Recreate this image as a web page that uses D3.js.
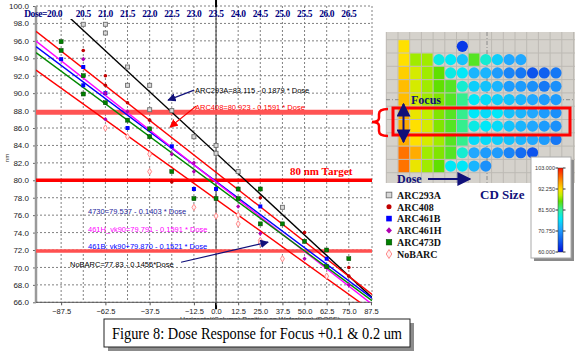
<!DOCTYPE html>
<meta charset="utf-8">
<style>
  body { margin: 0; background: #fff; }
  svg text { font-family: "Liberation Sans", Arial, sans-serif; }
  .serif { font-family: "Liberation Serif", "Times New Roman", serif !important; }
</style>
<div id="chart"></div>
<script src="https://d3js.org/d3.v7.min.js"></script>
<script>
// wafer columns (mm) and the dose written above each one
var columns = [-87.5, -75, -62.5, -50, -37.5, -25, -12.5, 0, 12.5, 25, 37.5, 50, 62.5, 75];
var doses = ["20.0", "20.5", "21.0", "21.5", "22.0", "22.5", "23.0", "23.5", "24.0", "24.5", "25.0", "25.5", "26.0", "26.5"];
var xTicks = [-87.5, -62.5, -37.5, -12.5, 0, 12.5, 25, 37.5, 50, 62.5, 75, 87.5];
var yTicks = [66, 68, 70, 72, 74, 76, 78, 80, 82, 84, 86, 88, 90, 92, 94, 96, 98, 100];
var refLines = [87.8, 80, 71.9];

var seriesNames = ["ARC293A", "ARC408", "ARC461B", "ARC461H", "ARC473D", "NoBARC"];

// measured CD (nm) per column, two focus rows
var p293A = [[-75, 97.9], [-62.5, 97.9], [-62.5, 96.9], [-50, 93.0], [-50, 90.9], [-37.5, 90.9], [-37.5, 88.1],
  [-25, 88.0], [-12.5, 85.0], [0, 84.0], [0, 83.1], [12.5, 81.0], [37.5, 76.9]];
var p408 = [[-75, 94.9], [-62.5, 92.0], [-62.5, 90.9], [-50, 88.9], [-37.5, 86.9], [-25, 79.8], [-12.5, 77.9],
  [25, 78.0], [50, 74.0], [75, 70.0], [75, 69.0]];
var p461B = [[-87.5, 93.9], [-75, 93.0], [-75, 90.9], [-62.5, 90.0], [-50, 86.0], [-25, 83.9], [-12.5, 79.0],
  [0, 79.0], [25, 77.0], [62.5, 71.0]];
var p461H = [[-75, 93.9], [-62.5, 90.0], [-62.5, 87.0], [-50, 87.9], [-25, 83.0], [-12.5, 82.0], [-12.5, 81.0],
  [12.5, 77.0], [25, 73.9], [50, 71.0], [62.5, 70.0], [75, 68.0]];
var p473D = [[-87.5, 95.9], [-87.5, 94.9], [-75, 92.0], [-75, 89.9], [-62.5, 88.9], [-50, 86.9], [-37.5, 85.9],
  [-37.5, 85.0], [-25, 81.0], [-12.5, 77.9], [0, 77.9], [12.5, 79.0], [12.5, 77.9], [25, 79.0], [25, 75.0],
  [37.5, 75.0], [50, 73.0], [62.5, 72.0], [62.5, 70.1], [75, 71.0]];
var pNoBARC = [[-62.5, 86.0], [-50, 85.0], [-37.5, 83.0], [-37.5, 81.0], [-12.5, 76.9], [0, 75.9], [12.5, 76.0],
  [12.5, 75.0], [25, 73.1], [25, 72.8], [37.5, 71.0], [62.5, 69.0]];
var points = [p293A, p408, p461B, p461H, p473D, pNoBARC];

// linear fits: CD = intercept + slope * x
var fitIntercept = [83.115, 80.923, 79.870, 79.791, 79.4, 77.83];
var fitSlope = [-0.1879, -0.1591, -0.1521, -0.1591, -0.150, -0.1456];

var eqLabels = ["ARC293A=83.115 - 0.1879 * Dose", "ARC408=80.923 - 0.1591 * Dose", "4730=79.537 - 0.1403 * Dose",
  "461H_vk90=79.791 - 0.1591 * Dose", "461B; vk90+79.870 - 0.1521 * Dose", "NoBARC=77.83 - 0.1456*Dose"];

// wafer map (CD values), rows top to bottom, columns 1..14
var waferMap = [
  [92, null, null, null, null, 63, null, null, null, null, null, null, null, null],
  [92, 88, 88, 78, 77, 74, 85, 79, 75, 72, 72, null, null, null],
  [93, 90, 88, 86, 78, 77, 73, 73, 71, 69, 68, 65, 66, 68],
  [94, 90, 88, 86, 85, 79, 75, 74, 73, 71, 71, 70, 68, 70],
  [94, 90, 88, 87, 85, 82, 77, 76, 75, 74, 73, 72, 71, 71],
  [95, 91, 89, 87, 85, 82, 77, 76, 77, 74, 73, 72, 71, 70],
  [95, 92, 90, 87, 85, 82, 78, 77, 76, 74, 73, 72, 71, 70],
  [95, 92, 90, 88, 85, 82, 76, 76, 75, 74, 73, 72, 71, 68],
  [98, 95, 88, 87, 85, 79, 72, 71, 71, 69, 67, 65, null, null],
  [98, 91, 88, 86, 77, 77, 73, 70, null, null, null, null, null, null]
];
var scaleTicks = [103, 92.25, 81.5, 70.75, 60];

var colors = { "ARC293A": "#000000", "ARC408": "#ff0000", "ARC461B": "#0000ff", "ARC461H": "#ff00ff", "ARC473D": "#008800", "NoBARC": "#ff0000" };
var navy = "#10107a";

var svg = d3.select("#chart").append("svg").attr("width", 579).attr("height", 353);
var defs = svg.append("defs");
function arrowHead(id, col) {
  defs.append("marker").attr("id", id).attr("viewBox", "0 0 10 10").attr("refX", 9).attr("refY", 5)
    .attr("markerWidth", 7).attr("markerHeight", 7).attr("orient", "auto-start-reverse")
    .append("path").attr("d", "M0,0 L10,5 L0,10 Z").attr("fill", col);
}
arrowHead("navyHead", navy);
arrowHead("redHead", "#ff0000");
defs.append("clipPath").attr("id", "plotClip").append("rect").attr("x", 36).attr("y", 19).attr("width", 336).attr("height", 283.3);

var x = d3.scaleLinear().domain([-101.7, 88.1]).range([36, 372]);
var y = d3.scaleLinear().domain([66, 100]).range([302.3, 6]);

// grid
svg.append("g").selectAll("line").data(columns).enter().append("line")
  .attr("x1", d => x(d)).attr("x2", d => x(d)).attr("y1", y(100)).attr("y2", y(66))
  .attr("stroke", "#808080").attr("stroke-dasharray", "2,2");
svg.append("g").selectAll("line").data(yTicks).enter().append("line")
  .attr("x1", 36).attr("x2", 372).attr("y1", d => y(d)).attr("y2", d => y(d))
  .attr("stroke", "#808080").attr("stroke-dasharray", "2,2");
svg.append("line").attr("x1", 372).attr("x2", 372).attr("y1", y(100)).attr("y2", y(66))
  .attr("stroke", "#808080").attr("stroke-dasharray", "2,2");
svg.append("line").attr("x1", x(0)).attr("x2", x(0)).attr("y1", 0).attr("y2", y(66)).attr("stroke", "#303030");
svg.append("line").attr("x1", x(0)).attr("x2", x(0)).attr("y1", 0).attr("y2", 7).attr("stroke", "#000").attr("stroke-width", 2);
svg.append("line").attr("x1", x(0)).attr("x2", x(0)).attr("y1", y(66)).attr("y2", y(66) + 7).attr("stroke", "#000").attr("stroke-width", 2);

// axes
var yAxis = svg.append("g").attr("transform", "translate(36,0)")
  .call(d3.axisLeft(y).tickValues(yTicks).tickFormat(d3.format(".1f")).tickSize(3).tickPadding(4));
yAxis.select(".domain").remove();
yAxis.selectAll("text").attr("font-size", "8px").attr("fill", "#222");
yAxis.selectAll("line").attr("stroke", "#666");
svg.append("line").attr("x1", 36).attr("x2", 36).attr("y1", y(100)).attr("y2", y(66)).attr("stroke", "#9a9a9a").attr("stroke-width", 2.5);

var xAxis = svg.append("g").attr("transform", "translate(0," + y(66) + ")")
  .call(d3.axisBottom(x).tickValues(xTicks).tickFormat(d3.format(".1f")).tickSize(3).tickPadding(3));
xAxis.select(".domain").attr("d", "M36,0H372").attr("stroke", "#555");
xAxis.selectAll("text").attr("font-size", "7.5px").attr("fill", "#222");
xAxis.selectAll("line").attr("stroke", "#555");

svg.append("text").attr("x", 180).attr("y", 322).attr("font-size", "7px").attr("fill", "#333")
  .text("Horizontal(Column) Position on Wafer(mm)  (DOSE)");
svg.append("text").attr("transform", "translate(9,158) rotate(-90)").attr("text-anchor", "middle")
  .attr("font-size", "6px").attr("fill", "#333").text("nm");

// dose labels on top
svg.append("g").selectAll("text").data(doses).enter().append("text").attr("class", "serif")
  .attr("x", (d, i) => i === 0 ? x(columns[0]) + 1 : x(columns[i]))
  .attr("y", 17).attr("text-anchor", (d, i) => i === 0 ? "end" : "middle")
  .attr("font-size", "9.5px").attr("font-weight", "bold").attr("letter-spacing", "-0.4px").attr("fill", "#000080")
  .text((d, i) => i === 0 ? "Dose=" + d : d);

// reference lines
var refStyle = [{ w: 5, c: "#ff5454", x2: 373 }, { w: 3.5, c: "#ff0000", x2: 372 }, { w: 3.5, c: "#ff5050", x2: 372 }];
svg.append("g").selectAll("line").data(refLines).enter().append("line")
  .attr("x1", 36).attr("x2", (d, i) => refStyle[i].x2).attr("y1", d => y(d)).attr("y2", d => y(d))
  .attr("stroke", (d, i) => refStyle[i].c).attr("stroke-width", (d, i) => refStyle[i].w);
svg.append("text").attr("class", "serif").attr("x", 290).attr("y", 175).attr("font-size", "11px")
  .attr("font-weight", "bold").attr("fill", "#ff0000").text("80 nm Target");

// fit lines
var fitG = svg.append("g").attr("clip-path", "url(#plotClip)");
seriesNames.forEach(function(name, i) {
  var xs = x.domain();
  fitG.append("line")
    .attr("x1", x(xs[0])).attr("y1", y(fitIntercept[i] + fitSlope[i] * xs[0]))
    .attr("x2", x(xs[1])).attr("y2", y(fitIntercept[i] + fitSlope[i] * xs[1]))
    .attr("stroke", colors[name]).attr("stroke-width", 1.4);
});

// markers
function drawMarker(g, name, cx, cy, s) {
  s = s || 1;
  if (name === "ARC293A") {
    g.append("rect").attr("x", cx - 2 * s).attr("y", cy - 2 * s).attr("width", 4 * s).attr("height", 4 * s)
      .attr("fill", "#d8d8d8").attr("stroke", "#707070").attr("stroke-width", 0.9);
  } else if (name === "ARC408") {
    g.append("circle").attr("cx", cx).attr("cy", cy).attr("r", 1.8 * s).attr("fill", "#c00000");
  } else if (name === "ARC461B") {
    g.append("rect").attr("x", cx - 2 * s).attr("y", cy - 2 * s).attr("width", 4 * s).attr("height", 4 * s).attr("fill", "#0000ff");
  } else if (name === "ARC461H") {
    g.append("path").attr("d", "M" + cx + "," + (cy - 2.3 * s) + "l" + 2.1 * s + "," + 2.3 * s + "l" + (-2.1 * s) + "," + 2.3 * s + "l" + (-2.1 * s) + "," + (-2.3 * s) + "Z")
      .attr("fill", "#b000b0");
  } else if (name === "ARC473D") {
    g.append("rect").attr("x", cx - 2 * s).attr("y", cy - 2 * s).attr("width", 4 * s).attr("height", 4 * s)
      .attr("fill", "#008000").attr("stroke", "#004000").attr("stroke-width", 0.5);
  } else {
    g.append("path").attr("d", "M" + cx + "," + (cy - 3.2 * s) + "l" + 2 * s + "," + 3.2 * s + "l" + (-2 * s) + "," + 3.2 * s + "l" + (-2 * s) + "," + (-3.2 * s) + "Z")
      .attr("fill", "#fff0f0").attr("stroke", "#ff8080").attr("stroke-width", 0.9);
  }
}
var ptG = svg.append("g");
seriesNames.forEach(function(name, i) {
  points[i].forEach(function(p) { drawMarker(ptG, name, x(p[0]), y(p[1])); });
});

// equation annotations
var eqPos = [[-11.9, 90.0], [-11.9, 88.07], [-72.3, 76.1], [-72.3, 74.07], [-72.3, 72.1], [-82.5, 70.05]];
var eqCol = ["#000", "#ff0000", "#23239a", "#ff00ff", "#0000ff", "#000"];
svg.append("g").selectAll("text").data(eqLabels).enter().append("text")
  .attr("x", (d, i) => x(eqPos[i][0])).attr("y", (d, i) => y(eqPos[i][1]))
  .attr("font-size", "7.5px").attr("fill", (d, i) => eqCol[i]).text(d => d);
function arrow(a, b, col, head) {
  svg.append("line").attr("x1", x(a[0])).attr("y1", y(a[1])).attr("x2", x(b[0])).attr("y2", y(b[1]))
    .attr("stroke", col).attr("stroke-width", 1.2).attr("marker-end", "url(#" + head + ")");
}
arrow([-12.4, 90.35], [-27.1, 89.2], navy, "navyHead");
arrow([-11.3, 88.5], [-26.0, 86.1], "#ff0000", "redHead");
arrow([-19.8, 70.6], [29.4, 72.9], navy, "navyHead");

// ---- wafer map picture ----
var heatX = d3.scaleLinear().domain([0, 16]).range([386.3, 573.5]);
var heatY = d3.scaleLinear().domain([0, 10]).range([39.7, 172.7]);
var heatColor = d3.scaleLinear()
  .domain([60, 66, 72, 77, 81.5, 86, 89, 92, 96, 103])
  .range(["#0010e0", "#1060f0", "#20a8ff", "#00e8f8", "#30f0a0", "#60e000", "#c0f000", "#ffe000", "#ff9a00", "#ff1000"]);
var hm = svg.append("g");
hm.append("rect").attr("x", 386).attr("y", 32).attr("width", 189).attr("height", 151).attr("fill", "#d5d2cc");
d3.range(0, 17).forEach(function(k) {
  hm.append("line").attr("x1", heatX(k)).attr("x2", heatX(k)).attr("y1", 32).attr("y2", 183).attr("stroke", "#bdbab4");
});
d3.range(0, 11).forEach(function(k) {
  hm.append("line").attr("x1", 386).attr("x2", 575).attr("y1", heatY(k)).attr("y2", heatY(k)).attr("stroke", "#bdbab4");
});
hm.append("line").attr("x1", 487).attr("x2", 487).attr("y1", 32).attr("y2", 183).attr("stroke", "#8a8a8a").attr("stroke-dasharray", "4,2,1,2");
hm.append("line").attr("x1", 386).attr("x2", 575).attr("y1", 99.7).attr("y2", 99.7).attr("stroke", "#8a8a8a").attr("stroke-dasharray", "4,2,1,2");
waferMap.forEach(function(row, r) {
  row.forEach(function(v, c) {
    if (v === null) return;
    var x0 = heatX(c + 1), y0 = heatY(r), w = heatX(c + 2) - x0, h = heatY(r + 1) - y0;
    if (v >= 80) {
      hm.append("rect").attr("x", x0 + 0.5).attr("y", y0 + 0.5).attr("width", w - 1).attr("height", h - 1).attr("fill", heatColor(v));
    } else {
      hm.append("circle").attr("cx", x0 + w / 2).attr("cy", y0 + h / 2).attr("r", 5.6).attr("fill", heatColor(v));
    }
  });
});

// selection box + bracket
svg.append("rect").attr("x", 393).attr("y", 108).attr("width", 177).attr("height", 27)
  .attr("fill", "none").attr("stroke", "#ff0000").attr("stroke-width", 3);
svg.append("path").attr("d", "M388,109 Q379,109 379,114 L379,118 Q379,122 372,122 Q379,122 379,126 L379,131 Q379,136 388,136")
  .attr("fill", "none").attr("stroke", "#ff0000").attr("stroke-width", 2.5);

// focus / dose arrows
svg.append("line").attr("x1", 403.5).attr("x2", 403.5).attr("y1", 104).attr("y2", 142)
  .attr("stroke", navy).attr("stroke-width", 2).attr("marker-start", "url(#navyHead)").attr("marker-end", "url(#navyHead)");
svg.append("text").attr("class", "serif").attr("x", 411).attr("y", 104).attr("font-size", "12px")
  .attr("font-weight", "bold").attr("fill", navy).text("Focus");
svg.append("text").attr("class", "serif").attr("x", 397).attr("y", 183).attr("font-size", "12px")
  .attr("font-weight", "bold").attr("fill", navy).text("Dose");
svg.append("line").attr("x1", 428).attr("x2", 470).attr("y1", 179).attr("y2", 179)
  .attr("stroke", navy).attr("stroke-width", 2).attr("marker-end", "url(#navyHead)");
svg.append("text").attr("class", "serif").attr("x", 480).attr("y", 199).attr("font-size", "13px")
  .attr("font-weight", "bold").attr("fill", navy).text("CD Size");

// colour scale box
svg.append("rect").attr("x", 534).attr("y", 160).attr("width", 40).attr("height", 101).attr("fill", "#8a8a8a");
svg.append("rect").attr("x", 531).attr("y", 157).attr("width", 40).attr("height", 101).attr("fill", "#fff").attr("stroke", "#aaa");
var grad = defs.append("linearGradient").attr("id", "cbar").attr("x1", 0).attr("y1", 1).attr("x2", 0).attr("y2", 0);
heatColor.domain().forEach(function(v) {
  grad.append("stop").attr("offset", (v - 60) / 43).attr("stop-color", heatColor(v));
});
var cbY = d3.scaleLinear().domain([60, 103]).range([252, 168]);
svg.append("rect").attr("x", 558).attr("y", cbY(103)).attr("width", 5).attr("height", cbY(60) - cbY(103))
  .attr("fill", "url(#cbar)").attr("stroke", "#333").attr("stroke-width", 0.5);
var cbG = svg.append("g").selectAll("g").data(scaleTicks).enter().append("g");
cbG.append("line").attr("x1", 555.5).attr("x2", 558).attr("y1", d => cbY(d)).attr("y2", d => cbY(d)).attr("stroke", "#333");
cbG.append("line").attr("x1", 563).attr("x2", 565.5).attr("y1", d => cbY(d)).attr("y2", d => cbY(d)).attr("stroke", "#333");
cbG.append("text").attr("x", 555).attr("y", d => cbY(d) + 2).attr("text-anchor", "end")
  .attr("font-size", "5.5px").attr("fill", "#333").text(d => d3.format(".3f")(d));

// legend
var legY = d3.scaleLinear().domain([0, 5]).range([195, 254]);
seriesNames.forEach(function(name, i) {
  drawMarker(svg, name, 389, legY(i), 1.4);
  svg.append("text").attr("class", "serif").attr("x", 397).attr("y", legY(i) + 3.8)
    .attr("font-size", "10px").attr("font-weight", "bold").attr("fill", "#111")
    .text(name);
});

// caption
svg.append("rect").attr("x", 108).attr("y", 323).attr("width", 306).attr("height", 28).attr("fill", "#8c8c8c");
svg.append("rect").attr("x", 104).attr("y", 319).attr("width", 306).attr("height", 28).attr("fill", "#fff").attr("stroke", "#222");
svg.append("text").attr("class", "serif").attr("x", 112).attr("y", 339).attr("font-size", "16px").attr("fill", "#000")
  .attr("textLength", 290).attr("lengthAdjust", "spacingAndGlyphs")
  .text("Figure 8: Dose Response for Focus +0.1 & 0.2 um");
</script>
